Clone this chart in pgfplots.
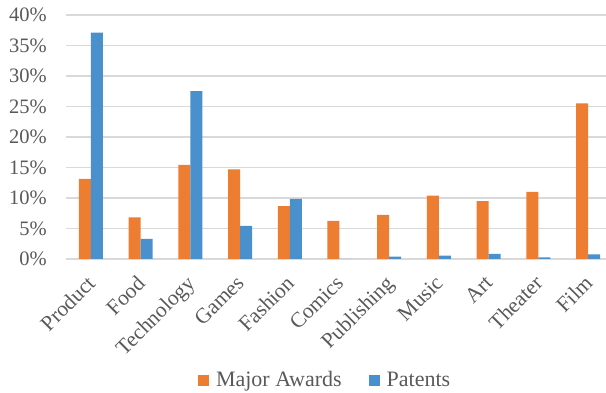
\documentclass[border=0pt]{standalone}
\usepackage{pgfplots}
\usepackage{pgfplotstable}
\pgfplotsset{compat=1.18}
\usepackage{fontspec}
\setmainfont{Liberation Serif}

\definecolor{awardorange}{RGB}{237,125,49}
\definecolor{patentblue}{RGB}{74,144,204}
\definecolor{labelgray}{RGB}{89,89,89}
\definecolor{gridgray}{RGB}{217,217,217}

% share of major awards and patents by category (percent)
\pgfplotstableread{
x  award  patent
0  13.15  37.10
1   6.84   3.29
2  15.45  27.50
3  14.68   5.42
4   8.65   9.86
5   6.25   0.00
6   7.23   0.38
7  10.40   0.54
8   9.47   0.82
9  11.00   0.27
10 25.50   0.77
}\sharedata

\begin{document}
\begin{tikzpicture}
\path[use as bounding box] (0,0) rectangle (606pt,393pt);
\begin{axis}[
  at={(66pt,134pt)}, anchor=south west,
  scale only axis, width=540pt, height=244pt,
  xmin=-0.5, xmax=10.36, ymin=0, ymax=40,
  ybar=0pt, bar width=12pt,
  axis line style={draw=none},
  major tick length=0pt,
  ymajorgrids, grid style={gridgray, line width=1.4pt},
  ytick={0,5,...,40},
  yticklabel={\pgfmathprintnumber{\tick}\%},
  /pgf/number format/assume math mode=true,
  xtick={0,...,10},
  xticklabels={Product,Food,Technology,Games,Fashion,Comics,Publishing,Music,Art,Theater,Film},
  tick label style={font=\fontsize{20.5}{20.5}\selectfont, text=labelgray, inner sep=0pt},
  yticklabel style={anchor=east, xshift=-19pt},
  xticklabel style={font=\fontsize{21.5}{21.5}\selectfont,
    xshift=-5pt, yshift=-15pt, rotate=45, anchor=north east},
  legend columns=2,
  legend style={at={(0.478,-0.496)}, anchor=center, draw=none, fill=none,
    font=\fontsize{22}{22}\selectfont, text=labelgray,
    nodes={inner sep=0pt},
    /tikz/every odd column/.append style={column sep=7pt},
    /tikz/every even column/.append style={column sep=27pt}},
  legend image code/.code={\fill[#1,draw=none] (0pt,-5.5pt) rectangle (11pt,5.5pt);},
]
\addplot[fill=awardorange, draw=none] table[x=x, y=award] {\sharedata};
\addplot[fill=patentblue, draw=none] table[x=x, y=patent] {\sharedata};
\legend{Major Awards, Patents}
\end{axis}
\end{tikzpicture}
\end{document}
